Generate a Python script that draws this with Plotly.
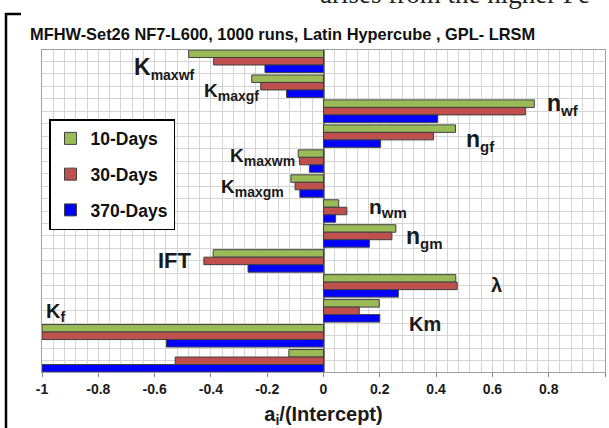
import plotly.graph_objects as go

categories = ["Kmaxwf", "Kmaxgf", "nwf", "ngf", "Kmaxwm", "Kmaxgm", "nwm", "ngm",
              "IFT", "λ", "Km", "Kf", "(unlabeled)"]
series_names = ["10-Days", "30-Days", "370-Days"]
days10 = [-0.479, -0.255, 0.749, 0.469, -0.090, -0.116, 0.054, 0.257, -0.392, 0.470, 0.198, -1.000, -0.123]
days30 = [-0.390, -0.223, 0.717, 0.391, -0.085, -0.101, 0.083, 0.243, -0.425, 0.475, 0.127, -1.000, -0.527]
days370 = [-0.208, -0.131, 0.406, 0.203, -0.050, -0.084, 0.043, 0.163, -0.268, 0.266, 0.200, -0.558, -1.000]
colors = ["#9BBB59", "#C0504D", "#0000FF"]
x_ticks = [-1, -0.8, -0.6, -0.4, -0.2, 0, 0.2, 0.4, 0.6, 0.8, 1]
x_ticktext = ["-1", "-0.8", "-0.6", "-0.4", "-0.2", "0", "0.2", "0.4", "0.6", "0.8", "1"]

W, H = 609, 428
L, R, T, B = 42, 605, 50, 372


def px(xp):
    return (xp - L) / (R - L)


def py(yp):
    return (B - yp) / (B - T)


ypos = list(range(len(categories)))
fig = go.Figure()
for name, vals, col in zip(series_names, [days10, days30, days370], colors):
    fig.add_trace(go.Bar(
        y=ypos, x=vals, name="<b>" + name + "</b>", orientation="h",
        marker=dict(color=col, line=dict(color="#404040", width=1)),
        legendgroup=name, hovertext=categories,
    ))

font_main = "Liberation Sans, Arial, sans-serif"


def lab(main, sub, subsize):
    if not sub:
        return "<b>" + main + "</b>"
    return ("<b>" + main + "<sub><span style='font-size:%dpx'>" % subsize + sub
            + "</span></sub></b>")


# in-plot category labels: (main, subscript, x_px, y_px, xanchor, size, subsize)
labels = [
    ("K", "maxwf", 197, 68, "right", 23, 14),
    ("K", "maxgf", 202, 92, "left", 19, 14),
    ("n", "wf", 545, 104, "left", 23, 15),
    ("n", "gf", 464, 140, "left", 23, 15),
    ("K", "maxwm", 228, 157, "left", 19, 14),
    ("K", "maxgm", 219, 188, "left", 19, 14),
    ("n", "wm", 367, 208, "left", 21, 15),
    ("n", "gm", 404, 237, "left", 23, 15),
    ("IFT", "", 156, 260, "left", 22, 0),
    ("λ", "", 489, 285, "left", 20, 0),
    ("Km", "", 407, 324, "left", 20, 0),
    ("K", "f", 44, 312, "left", 20, 14),
]
annotations = []
for main, sub, xx, yy, xa, sz, ssz in labels:
    annotations.append(dict(
        text=lab(main, sub, ssz), x=px(xx), y=py(yy), xref="paper", yref="paper",
        xanchor=xa, yanchor="middle", showarrow=False,
        font=dict(family=font_main, size=sz, color="#1a1a1a"),
    ))

# clipped document text above the chart
annotations.append(dict(
    text="arises from the higher Fe", x=px(318), y=py(-6), xref="paper", yref="paper",
    xanchor="left", yanchor="middle", showarrow=False,
    font=dict(family="Liberation Serif, Times New Roman, serif", size=27, color="#222222"),
))

shapes = [
    dict(type="line", xref="paper", yref="paper", x0=px(6), x1=px(6), y0=py(13), y1=py(430),
         line=dict(color="black", width=2.5)),
    dict(type="line", xref="paper", yref="paper", x0=px(5), x1=px(21), y0=py(14), y1=py(14),
         line=dict(color="black", width=2.5)),
]

minor_vals = [round(-1 + 0.04 * k, 2) for k in range(51)]

fig.update_layout(
    width=W, height=H,
    margin=dict(l=L, r=W - R, t=T, b=H - B, autoexpand=False),
    paper_bgcolor="white", plot_bgcolor="white",
    barmode="group", bargap=0.1, bargroupgap=0,
    font=dict(family=font_main, color="#1a1a1a"),
    title=dict(text="<b>MFHW-Set26 NF7-L600, 1000 runs, Latin Hypercube , GPL- LRSM</b>",
               x=30 / W, xanchor="left", xref="container",
               y=1 - 34 / H, yanchor="middle", yref="container",
               font=dict(size=16.4, family=font_main, color="#111111")),
    showlegend=True,
    legend=dict(x=px(49), y=py(119), xanchor="left", yanchor="top",
                bgcolor="white", bordercolor="black", borderwidth=1.5,
                font=dict(size=17.5, family=font_main, color="#111111"),
                tracegroupgap=10, traceorder="grouped", itemwidth=30),
    annotations=annotations,
    shapes=shapes,
    xaxis=dict(range=[-1, 1], tickvals=x_ticks, ticktext=["<b>" + t + "</b>" for t in x_ticktext],
               tickfont=dict(size=14, color="#1a1a1a"), ticklabelstandoff=0,
               ticks="outside", ticklen=4, tickcolor="#808080",
               showgrid=True, gridcolor="#d4d4d4", gridwidth=1,
               minor=dict(tickmode="array", tickvals=minor_vals, showgrid=True,
                          gridcolor="#d4d4d4", gridwidth=1),
               zeroline=True, zerolinecolor="#7f7f7f", zerolinewidth=1.5,
               showline=True, linecolor="#a0a0a0", linewidth=1, mirror=True,
               title=dict(text="<b>a<sub>i</sub>/(Intercept)</b>", standoff=16,
                          font=dict(size=20, color="#1a1a1a"))),
    yaxis=dict(range=[len(categories) - 0.55, -0.45], showticklabels=False,
               tick0=0, dtick=0.5, showgrid=True, gridcolor="#d4d4d4", gridwidth=1,
               zeroline=False, showline=True, linecolor="#a0a0a0", linewidth=1, mirror=True,
               ticks=""),
)

fig.write_html("out.html")
